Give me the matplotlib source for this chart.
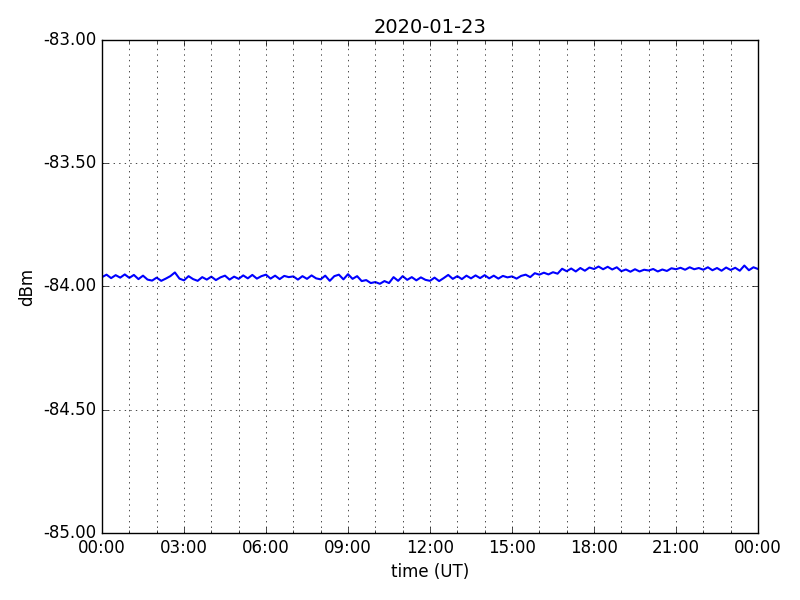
import matplotlib
matplotlib.use("Agg")
import matplotlib.pyplot as plt
import matplotlib.dates as mdates
import matplotlib.ticker as mticker
import datetime as dt

plt.style.use("classic")

title = "2020-01-23"
start = dt.datetime(2020, 1, 23, 0, 0)
step_minutes = 10

# dBm values, one per 10 minutes (00:00 .. 24:00)
dbm = [
    -83.962, -83.952, -83.966, -83.954, -83.964, -83.951,
    -83.965, -83.953, -83.970, -83.956, -83.972, -83.976,
    -83.964, -83.977, -83.968, -83.958, -83.943, -83.968,
    -83.975, -83.958, -83.970, -83.977, -83.962, -83.972,
    -83.960, -83.974, -83.963, -83.956, -83.972, -83.960,
    -83.969, -83.955, -83.967, -83.953, -83.968, -83.958,
    -83.952, -83.968, -83.956, -83.970, -83.957, -83.962,
    -83.959, -83.972, -83.958, -83.969, -83.955, -83.967,
    -83.971, -83.956, -83.977, -83.958, -83.952, -83.971,
    -83.950, -83.969, -83.958, -83.978, -83.974, -83.986,
    -83.982, -83.989, -83.978, -83.986, -83.962, -83.977,
    -83.958, -83.973, -83.962, -83.975, -83.963, -83.973,
    -83.977, -83.964, -83.978, -83.966, -83.953, -83.969,
    -83.958, -83.970, -83.956, -83.967, -83.955, -83.966,
    -83.954, -83.967, -83.956, -83.968, -83.957, -83.963,
    -83.959, -83.968, -83.957, -83.952, -83.962, -83.946,
    -83.952, -83.944, -83.951, -83.942, -83.948, -83.928,
    -83.938, -83.927, -83.939, -83.925, -83.936, -83.923,
    -83.929, -83.919, -83.930, -83.920, -83.931, -83.922,
    -83.938, -83.931, -83.940, -83.930, -83.939, -83.932,
    -83.935, -83.929, -83.939, -83.931, -83.937, -83.926,
    -83.930, -83.924, -83.932, -83.922, -83.930, -83.925,
    -83.932, -83.922, -83.934, -83.925, -83.936, -83.923,
    -83.933, -83.924, -83.936, -83.915, -83.934, -83.922,
    -83.929,
]
times = [start + dt.timedelta(minutes=step_minutes * i) for i in range(len(dbm))]

fig = plt.figure(figsize=(8, 6), dpi=100)
fig.patch.set_facecolor("white")
ax = fig.add_axes([0.1275, 0.1117, 0.82, 0.8216])
ax.plot(times, dbm, color="b", lw=1.5)

ax.set_xlim(start, start + dt.timedelta(days=1))
ax.set_ylim(-85, -83)
ax.xaxis.set_major_locator(mdates.HourLocator(byhour=range(0, 24, 3)))
ax.xaxis.set_minor_locator(mdates.HourLocator())
ax.xaxis.set_major_formatter(mdates.DateFormatter("%H:%M"))
ax.yaxis.set_major_locator(mticker.MultipleLocator(0.5))
ax.yaxis.set_major_formatter(mticker.FormatStrFormatter("%.2f"))
ax.grid(True, which="major", axis="both", color="k", linestyle=":", lw=0.5)
ax.grid(True, which="minor", axis="x", color="k", linestyle=":", lw=0.5)

ax.set_title(title, fontsize=14)
ax.set_xlabel("time (UT)")
ax.set_ylabel("dBm")

fig.savefig("out.png", dpi=100, facecolor="white")
